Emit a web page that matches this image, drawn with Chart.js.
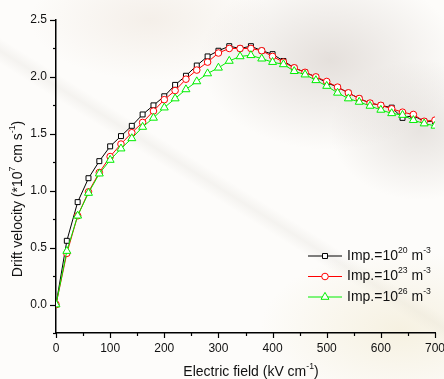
<!DOCTYPE html>
<html>
<head>
<meta charset="utf-8">
<script src="https://cdn.jsdelivr.net/npm/chart.js@4"></script>
<style>
  html, body { margin: 0; padding: 0; background: #fff; }
  #wrap {
    width: 444px; height: 379px; position: relative;
    background:
      radial-gradient(ellipse 130px 90px at 330px 60px, rgba(205,196,190,0.5), rgba(205,196,190,0) 100%),
      radial-gradient(ellipse 90px 70px at 420px 130px, rgba(200,192,186,0.4), rgba(200,192,186,0) 100%),
      radial-gradient(ellipse 120px 60px at 150px 20px, rgba(225,210,195,0.3), rgba(225,210,195,0) 100%),
      radial-gradient(ellipse 140px 80px at 400px 330px, rgba(240,232,205,0.55), rgba(240,232,205,0) 100%),
      linear-gradient(32deg, rgba(0,0,0,0) 48%, rgba(195,190,180,0.15) 50%, rgba(0,0,0,0) 52%),
      #fdfcfa;
  }
  canvas { display: block; }
</style>
</head>
<body>
<div id="wrap"><canvas id="chart" width="444" height="379"></canvas></div>
<script>
// electric field values (kV/cm)
const fields = [0, 20, 40, 60, 80, 100, 120, 140, 160, 180, 200, 220, 240, 260, 280, 300, 320, 340,
                360, 380, 400, 420, 440, 460, 480, 500, 520, 540, 560, 580, 600, 620, 640, 660, 680, 700];

// drift velocity (*10^7 cm/s) for each impurity level
const imp20 = [0.00, 0.56, 0.90, 1.11, 1.26, 1.39, 1.48, 1.57, 1.67, 1.75, 1.83, 1.93, 2.01, 2.10, 2.18, 2.23, 2.27, 2.25,
               2.27, 2.23, 2.20, 2.14, 2.08, 2.04, 2.00, 1.95, 1.91, 1.86, 1.81, 1.77, 1.75, 1.73, 1.64, 1.66, 1.61, 1.61];
const imp23 = [0.00, 0.45, 0.78, 0.99, 1.16, 1.30, 1.41, 1.51, 1.60, 1.70, 1.80, 1.88, 1.98, 2.06, 2.13, 2.21, 2.25, 2.25,
               2.25, 2.23, 2.18, 2.13, 2.08, 2.04, 2.00, 1.96, 1.91, 1.86, 1.81, 1.77, 1.75, 1.72, 1.69, 1.67, 1.61, 1.62];
const imp26 = [0.00, 0.47, 0.78, 0.98, 1.15, 1.27, 1.37, 1.46, 1.56, 1.64, 1.73, 1.81, 1.89, 1.96, 2.03, 2.08, 2.14, 2.18,
               2.19, 2.16, 2.13, 2.11, 2.05, 2.02, 1.97, 1.92, 1.86, 1.81, 1.78, 1.745, 1.71, 1.68, 1.665, 1.62, 1.59, 1.57];

const seriesNames = [
  [{ t: 'Imp.=10' }, { t: '20', sup: true }, { t: ' m' }, { t: '-3', sup: true }],
  [{ t: 'Imp.=10' }, { t: '23', sup: true }, { t: ' m' }, { t: '-3', sup: true }],
  [{ t: 'Imp.=10' }, { t: '26', sup: true }, { t: ' m' }, { t: '-3', sup: true }]
];

const FONT = '"Liberation Sans", Arial, sans-serif';

function toPoints(arr) {
  return fields.map((x, i) => ({ x: x, y: arr[i] }));
}

// draws text with superscript parts, returns width
function richWidth(ctx, parts, size) {
  let w = 0;
  parts.forEach(p => {
    ctx.font = (p.sup ? size * 0.62 : size) + 'px ' + FONT;
    w += ctx.measureText(p.t).width;
  });
  return w;
}
function drawRich(ctx, parts, x, y, size) {
  ctx.textBaseline = 'middle';
  ctx.textAlign = 'left';
  parts.forEach(p => {
    ctx.font = (p.sup ? size * 0.62 : size) + 'px ' + FONT;
    ctx.fillText(p.t, x, p.sup ? y - size * 0.42 : y);
    x += ctx.measureText(p.t).width;
  });
}

// ticks, axis titles and legend
const decorPlugin = {
  id: 'decor',
  afterDraw(chart) {
    const ctx = chart.ctx;
    const xs = chart.scales.x, ys = chart.scales.y;
    ctx.save();
    ctx.strokeStyle = '#000';
    ctx.lineWidth = 1.2;
    for (let v = 0; v <= 700; v += 50) {
      const px = Math.round(xs.getPixelForValue(v)) + 0.5;
      const len = v % 100 === 0 ? 5 : 3;
      ctx.beginPath();
      ctx.moveTo(px, xs.top);
      ctx.lineTo(px, xs.top + len);
      ctx.stroke();
    }
    for (let v = -0.25; v <= 2.5001; v += 0.25) {
      const py = Math.round(ys.getPixelForValue(v)) + 0.5;
      const len = Math.abs(v / 0.5 - Math.round(v / 0.5)) < 1e-6 ? 6 : 3;
      ctx.beginPath();
      ctx.moveTo(ys.right, py);
      ctx.lineTo(ys.right - len, py);
      ctx.stroke();
    }

    ctx.fillStyle = '#111';
    // x title
    const xt = [{ t: 'Electric field (kV cm' }, { t: '-1', sup: true }, { t: ')' }];
    const xw = richWidth(ctx, xt, 14);
    drawRich(ctx, xt, 251 - xw / 2, 372, 14);
    // y title
    const yt = [{ t: 'Drift velocity (*10' }, { t: '7', sup: true }, { t: ' cm s' }, { t: '-1', sup: true }, { t: ')' }];
    const yw = richWidth(ctx, yt, 14);
    ctx.save();
    ctx.translate(18, 199);
    ctx.rotate(-Math.PI / 2);
    drawRich(ctx, yt, -yw / 2, 0, 14);
    ctx.restore();

    // legend
    chart.data.datasets.forEach((ds, i) => {
      const y = 256 + i * 20.5;
      ctx.strokeStyle = ds.borderColor;
      ctx.lineWidth = 1;
      ctx.beginPath();
      ctx.moveTo(308, y);
      ctx.lineTo(342, y);
      ctx.stroke();
      ctx.fillStyle = '#fff';
      ctx.strokeStyle = ds.borderColor;
      Chart.helpers.drawPoint(ctx, {
        pointStyle: ds.pointStyle, radius: ds.pointRadius, borderWidth: 1, rotation: 0
      }, 325, y);
      ctx.fillStyle = '#111';
      drawRich(ctx, seriesNames[i], 347, y, 14);
    });
    ctx.restore();
  }
};

function generateChart() {
  const ctx = document.getElementById('chart').getContext('2d');
  new Chart(ctx, {
    type: 'line',
    data: {
      datasets: [
        {
          data: toPoints(imp20),
          borderColor: '#000000',
          borderWidth: 1,
          pointStyle: 'rect',
          pointRadius: 3.5,
          pointBackgroundColor: '#ffffff',
          pointBorderColor: '#000000',
          pointBorderWidth: 1,
          order: 3
        },
        {
          data: toPoints(imp23),
          borderColor: '#ff0000',
          borderWidth: 1,
          pointStyle: 'circle',
          pointRadius: 3.3,
          pointBackgroundColor: '#ffffff',
          pointBorderColor: '#ff0000',
          pointBorderWidth: 1,
          order: 2
        },
        {
          data: toPoints(imp26),
          borderColor: '#00ee00',
          borderWidth: 1,
          pointStyle: 'triangle',
          pointRadius: 4.6,
          pointBackgroundColor: '#ffffff',
          pointBorderColor: '#00ee00',
          pointBorderWidth: 1,
          order: 1
        }
      ]
    },
    options: {
      responsive: false,
      animation: false,
      devicePixelRatio: 1,
      layout: { autoPadding: false, padding: { left: 0, top: 20, right: 9, bottom: 0 } },
      plugins: { legend: { display: false }, tooltip: { enabled: false } },
      scales: {
        x: {
          type: 'linear',
          min: 0,
          max: 700,
          grid: { display: false, drawTicks: false },
          border: { display: true, color: '#000', width: 1.5 },
          ticks: {
            stepSize: 50,
            autoSkip: false,
            maxRotation: 0,
            padding: 8,
            color: '#111',
            font: { family: FONT, size: 12 },
            callback: v => (v % 100 === 0 ? String(v) : '')
          },
          afterFit(scale) {
            scale.height = 46;
            scale.paddingLeft = 0;
            scale.paddingRight = 0;
          }
        },
        y: {
          type: 'linear',
          min: -0.25,
          max: 2.5,
          grid: { display: false, drawTicks: false },
          border: { display: true, color: '#000', width: 1.5 },
          ticks: {
            stepSize: 0.25,
            autoSkip: false,
            padding: 9,
            color: '#111',
            font: { family: FONT, size: 12 },
            callback: v => (v >= 0 && Math.abs(v / 0.5 - Math.round(v / 0.5)) < 1e-6 ? v.toFixed(1) : '')
          },
          afterFit(scale) {
            scale.width = 56;
            scale.paddingTop = 0;
            scale.paddingBottom = 0;
          }
        }
      }
    },
    plugins: [decorPlugin]
  });
}

document.addEventListener('DOMContentLoaded', generateChart);
</script>
</body>
</html>
